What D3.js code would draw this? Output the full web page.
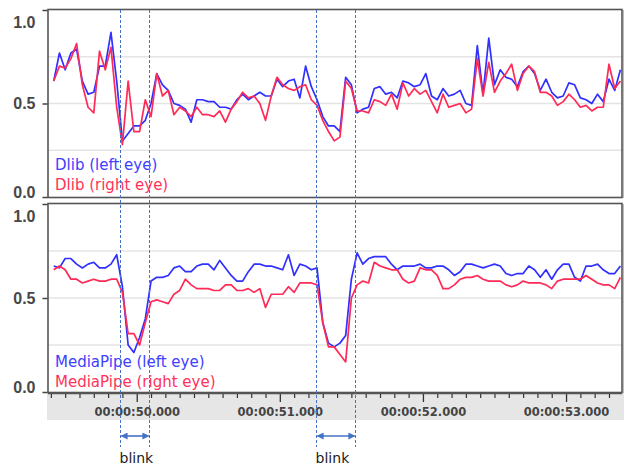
<!DOCTYPE html>
<html><head><meta charset="utf-8">
<script src="https://cdn.jsdelivr.net/npm/d3@7"></script>
<style>html,body{margin:0;padding:0;background:#fff;} svg{display:block;}</style>
</head><body>
<svg id="chart" width="626" height="466"></svg>
<script>
// ---- data ----
const sampleStart = 49.42;   // seconds of first sample
const sampleStep = 0.04;     // seconds between samples
const dlibLeft = [0.62,0.77,0.68,0.77,0.79,0.62,0.55,0.56,0.70,0.70,
  0.88,0.62,0.30,0.34,0.38,0.38,0.41,0.50,0.66,0.60,
  0.57,0.50,0.49,0.47,0.40,0.52,0.52,0.51,0.51,0.48,
  0.48,0.47,0.52,0.55,0.52,0.54,0.56,0.54,0.54,0.63,
  0.59,0.62,0.63,0.53,0.70,0.59,0.52,0.43,0.38,0.38,
  0.35,0.64,0.60,0.45,0.47,0.48,0.58,0.59,0.55,0.56,
  0.53,0.62,0.61,0.59,0.60,0.66,0.54,0.52,0.58,0.54,
  0.55,0.57,0.50,0.49,0.81,0.55,0.85,0.60,0.68,0.64,
  0.63,0.59,0.67,0.70,0.66,0.57,0.63,0.56,0.53,0.54,
  0.61,0.60,0.53,0.52,0.50,0.55,0.51,0.63,0.57,0.68];
const dlibRight = [0.62,0.70,0.69,0.74,0.82,0.60,0.48,0.45,0.78,0.68,
  0.80,0.48,0.28,0.62,0.35,0.35,0.52,0.43,0.66,0.54,
  0.57,0.44,0.48,0.46,0.43,0.48,0.44,0.44,0.43,0.46,
  0.40,0.47,0.51,0.56,0.53,0.54,0.50,0.41,0.54,0.64,
  0.60,0.58,0.57,0.59,0.60,0.52,0.49,0.41,0.35,0.30,
  0.32,0.62,0.58,0.46,0.46,0.45,0.52,0.51,0.49,0.55,
  0.47,0.61,0.54,0.58,0.55,0.57,0.51,0.45,0.55,0.48,
  0.49,0.50,0.45,0.47,0.74,0.54,0.72,0.56,0.62,0.66,
  0.71,0.57,0.66,0.70,0.67,0.56,0.56,0.54,0.49,0.51,
  0.55,0.52,0.48,0.49,0.46,0.48,0.48,0.71,0.58,0.62];
const mpLeft = [0.67,0.66,0.71,0.71,0.68,0.66,0.68,0.69,0.66,0.66,
  0.68,0.73,0.56,0.25,0.21,0.29,0.39,0.59,0.61,0.61,
  0.62,0.66,0.67,0.64,0.64,0.67,0.68,0.68,0.65,0.70,
  0.66,0.62,0.59,0.59,0.64,0.68,0.68,0.67,0.67,0.66,
  0.65,0.73,0.62,0.68,0.67,0.65,0.66,0.37,0.26,0.24,
  0.26,0.30,0.60,0.74,0.68,0.71,0.72,0.72,0.72,0.68,
  0.65,0.67,0.67,0.67,0.68,0.66,0.66,0.67,0.67,0.65,
  0.62,0.64,0.68,0.68,0.67,0.66,0.67,0.68,0.67,0.63,
  0.62,0.63,0.63,0.67,0.65,0.61,0.65,0.60,0.65,0.68,
  0.68,0.61,0.59,0.67,0.67,0.68,0.65,0.63,0.63,0.67];
const mpRight = [0.65,0.67,0.65,0.60,0.60,0.58,0.59,0.60,0.59,0.59,
  0.60,0.60,0.53,0.31,0.31,0.25,0.37,0.48,0.49,0.48,
  0.47,0.52,0.54,0.60,0.57,0.55,0.55,0.55,0.54,0.54,
  0.57,0.57,0.54,0.54,0.55,0.53,0.55,0.45,0.52,0.52,
  0.52,0.56,0.53,0.58,0.58,0.58,0.57,0.37,0.24,0.24,
  0.20,0.16,0.50,0.57,0.59,0.58,0.69,0.67,0.66,0.65,
  0.65,0.60,0.58,0.59,0.66,0.65,0.65,0.62,0.55,0.55,
  0.57,0.60,0.61,0.61,0.62,0.60,0.59,0.59,0.59,0.57,
  0.56,0.57,0.59,0.58,0.58,0.58,0.57,0.55,0.59,0.60,
  0.60,0.60,0.60,0.62,0.60,0.58,0.57,0.57,0.55,0.61];
const majorTicks = [50, 51, 52, 53];
const majorTickLabels = ["00:00:50.000", "00:00:51.000", "00:00:52.000", "00:00:53.000"];
const yTicks = [0, 0.5, 1];
const yTickLabels = ["0.0", "0.5", "1.0"];
const gridValues = [0.25, 0.5, 0.75];
const blinkStart = [49.88, 51.25];
const blinkEnd = [50.088, 51.523];
const blinkLabels = ["blink", "blink"];
const legendTop = ["Dlib (left eye)", "Dlib (right eye)"];
const legendBottom = ["MediaPipe (left eye)", "MediaPipe (right eye)"];

// ---- drawing ----
const BLUE = "#3030ff", RED = "#ff2a55", GUIDE = "#4472c4";
const svg = d3.select("#chart");
const L = 48, R = 622;
const x = d3.scaleLinear().domain([49.38, 53.391]).range([L, R]);
const panels = [
  {top: 10, bottom: 197, series: [dlibLeft, dlibRight], legend: legendTop, legendY: [170, 189.5], labelOff: {1: 17, 0.5: 5, 0: 0}},
  {top: 204, bottom: 392, series: [mpLeft, mpRight], legend: legendBottom, legendY: [366.5, 386.5], labelOff: {1: 17.5, 0.5: 5.3, 0: 0}}
];

// axis band
svg.append("rect").attr("x", 47).attr("y", 393).attr("width", 577).attr("height", 27).attr("fill", "#e6e6e6");

panels.forEach(p => {
  const y = d3.scaleLinear().domain([0, 1]).range([p.bottom, p.top]);
  const g = svg.append("g");
  g.append("rect").attr("x", L).attr("y", p.top).attr("width", R - L).attr("height", p.bottom - p.top).attr("fill", "#fff");
  g.selectAll("line.grid").data(gridValues).join("line")
    .attr("x1", L).attr("x2", R).attr("y1", d => y(d)).attr("y2", d => y(d))
    .attr("stroke", "#e4e4e4").attr("stroke-width", 1.5);
  const line = d3.line().x((d, i) => x(sampleStart + i * sampleStep)).y(d => y(d));
  p.series.forEach((s, k) => {
    g.append("path").datum(s).attr("d", line).attr("fill", "none")
      .attr("stroke", k === 0 ? BLUE : RED).attr("stroke-width", 1.7).attr("stroke-linejoin", "round");
  });
  // frame
  g.append("rect").attr("x", L).attr("y", p.top - 0.5).attr("width", R - L).attr("height", p.bottom - p.top + 1)
    .attr("fill", "none").attr("stroke", "#555").attr("stroke-width", 1.6);
  g.append("line").attr("x1", R + 1.5).attr("x2", R + 1.5).attr("y1", p.top).attr("y2", p.bottom + 1)
    .attr("stroke", "#bbb").attr("stroke-width", 1);
  // left axis
  const ax = svg.append("g").attr("transform", `translate(${L - 0.5},0)`)
    .call(d3.axisLeft(y).tickValues(yTicks).tickSize(5).tickPadding(7)
      .tickFormat(d => yTickLabels[yTicks.indexOf(d)]));
  ax.select(".domain").remove();
  ax.selectAll(".tick line").attr("stroke", "#444").attr("stroke-width", 1.5);
  ax.selectAll(".tick text").attr("dy", null).attr("y", d => p.labelOff[d])
    .attr("fill", "#474747").style("font", "bold 16px 'Liberation Sans', Arial, sans-serif");
  // legend
  p.legend.forEach((t, k) => {
    svg.append("text").attr("x", 55).attr("y", p.legendY[k]).text(t)
      .attr("fill", k === 0 ? "#4040ff" : "#ff3358")
      .style("font", "15px 'DejaVu Sans', sans-serif");
  });
});

// bottom time axis
const minorTicks = d3.range(49.4, 53.39, 0.1).filter(v => Math.abs(v - Math.round(v)) > 0.01);
const axMinor = svg.append("g").attr("transform", "translate(0,394)")
  .call(d3.axisBottom(x).tickValues(minorTicks).tickSize(4).tickFormat(""));
axMinor.select(".domain").remove();
axMinor.selectAll(".tick line").attr("stroke", "#333").attr("stroke-width", 1.2);
const axMajor = svg.append("g").attr("transform", "translate(0,394)")
  .call(d3.axisBottom(x).tickValues(majorTicks).tickSize(8).tickPadding(6)
    .tickFormat(d => majorTickLabels[majorTicks.indexOf(d)]));
axMajor.select(".domain").remove();
axMajor.selectAll(".tick line").attr("stroke", "#333").attr("stroke-width", 1.3);
axMajor.selectAll(".tick text").attr("fill", "#444")
  .style("font", "bold 11.5px 'DejaVu Sans', sans-serif");
svg.append("line").attr("x1", L).attr("x2", R).attr("y1", 393.5).attr("y2", 393.5).attr("stroke", "#555").attr("stroke-width", 1.6);

// blink guides
const defs = svg.append("defs");
defs.append("marker").attr("id", "arr").attr("viewBox", "0 0 8 8").attr("refX", 7).attr("refY", 4)
  .attr("markerWidth", 7).attr("markerHeight", 7).attr("markerUnits", "userSpaceOnUse")
  .attr("orient", "auto-start-reverse")
  .append("path").attr("d", "M0,0 L8,4 L0,8 z").attr("fill", GUIDE);
const guideTimes = blinkStart.concat(blinkEnd);
svg.selectAll("line.guide").data(guideTimes).join("line")
  .attr("x1", d => Math.round(x(d)) + 0.5).attr("x2", d => Math.round(x(d)) + 0.5)
  .attr("y1", 10).attr("y2", 447)
  .attr("stroke", GUIDE).attr("stroke-width", 1).attr("stroke-dasharray", "3,2");
blinkStart.forEach((s, k) => {
  svg.append("line").attr("x1", Math.round(x(s)) + 1.5).attr("x2", Math.round(x(blinkEnd[k])) - 0.5)
    .attr("y1", 436).attr("y2", 436).attr("stroke", GUIDE).attr("stroke-width", 1.6)
    .attr("marker-start", "url(#arr)").attr("marker-end", "url(#arr)");
  svg.append("text").attr("x", x(s)).attr("y", 463).text(blinkLabels[k])
    .attr("fill", "#222").style("font", "14px 'DejaVu Sans', sans-serif");
});
</script>
</body></html>
